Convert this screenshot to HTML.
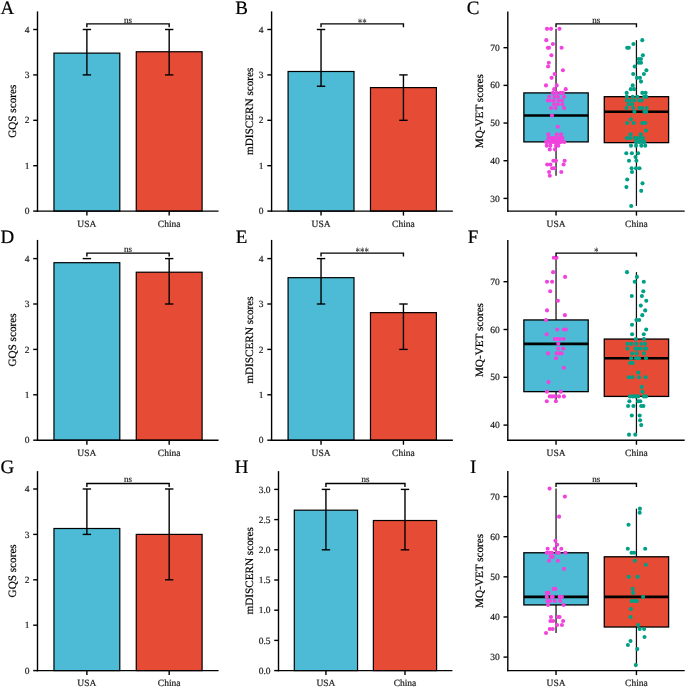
<!DOCTYPE html>
<html><head><meta charset="utf-8"><style>
html,body{margin:0;padding:0;background:#fff;}
svg{display:block;font-family:"Liberation Serif", serif;will-change:transform;text-rendering:geometricPrecision;}
</style></head><body>
<svg width="685" height="687" viewBox="0 0 685 687">
<rect width="685" height="687" fill="#fff"/>
<rect x="53.96" y="53.11" width="65.84" height="157.99" fill="#4DBBD5" stroke="#000" stroke-width="1.2"/>
<rect x="136.26" y="51.75" width="65.84" height="159.35" fill="#E64B35" stroke="#000" stroke-width="1.2"/>
<line x1="86.88" y1="74.90" x2="86.88" y2="29.50" stroke="#000" stroke-width="1.4"/>
<line x1="82.68" y1="74.90" x2="91.08" y2="74.90" stroke="#000" stroke-width="1.4"/>
<line x1="82.68" y1="29.50" x2="91.08" y2="29.50" stroke="#000" stroke-width="1.4"/>
<line x1="169.18" y1="74.90" x2="169.18" y2="29.50" stroke="#000" stroke-width="1.4"/>
<line x1="164.98" y1="74.90" x2="173.38" y2="74.90" stroke="#000" stroke-width="1.4"/>
<line x1="164.98" y1="29.50" x2="173.38" y2="29.50" stroke="#000" stroke-width="1.4"/>
<line x1="37.50" y1="11.40" x2="37.50" y2="211.80" stroke="#000" stroke-width="1.4"/>
<line x1="33.20" y1="211.10" x2="37.50" y2="211.10" stroke="#000" stroke-width="1.4"/>
<text x="29.50" y="214.20" font-size="9.5" text-anchor="end" fill="#1a1a1a" stroke="#1a1a1a" stroke-width="0.2">0</text>
<line x1="33.20" y1="165.70" x2="37.50" y2="165.70" stroke="#000" stroke-width="1.4"/>
<text x="29.50" y="168.80" font-size="9.5" text-anchor="end" fill="#1a1a1a" stroke="#1a1a1a" stroke-width="0.2">1</text>
<line x1="33.20" y1="120.30" x2="37.50" y2="120.30" stroke="#000" stroke-width="1.4"/>
<text x="29.50" y="123.40" font-size="9.5" text-anchor="end" fill="#1a1a1a" stroke="#1a1a1a" stroke-width="0.2">2</text>
<line x1="33.20" y1="74.90" x2="37.50" y2="74.90" stroke="#000" stroke-width="1.4"/>
<text x="29.50" y="78.00" font-size="9.5" text-anchor="end" fill="#1a1a1a" stroke="#1a1a1a" stroke-width="0.2">3</text>
<line x1="33.20" y1="29.50" x2="37.50" y2="29.50" stroke="#000" stroke-width="1.4"/>
<text x="29.50" y="32.60" font-size="9.5" text-anchor="end" fill="#1a1a1a" stroke="#1a1a1a" stroke-width="0.2">4</text>
<text x="16.30" y="111.25" font-size="11.2" text-anchor="middle" fill="#000" stroke="#000" stroke-width="0.2" transform="rotate(-90 16.30 111.25)">GQS scores</text>
<line x1="36.80" y1="211.10" x2="218.56" y2="211.10" stroke="#000" stroke-width="1.4"/>
<line x1="86.88" y1="211.10" x2="86.88" y2="215.60" stroke="#000" stroke-width="1.4"/>
<text x="86.88" y="226.70" font-size="9.5" text-anchor="middle" fill="#1a1a1a" stroke="#1a1a1a" stroke-width="0.2">USA</text>
<line x1="169.18" y1="211.10" x2="169.18" y2="215.60" stroke="#000" stroke-width="1.4"/>
<text x="169.18" y="226.70" font-size="9.5" text-anchor="middle" fill="#1a1a1a" stroke="#1a1a1a" stroke-width="0.2">China</text>
<path d="M86.88,27.25 L86.88,23.85 L169.18,23.85 L169.18,27.25" fill="none" stroke="#000" stroke-width="1.4"/>
<text x="128.03" y="22.55" font-size="9" text-anchor="middle" fill="#222" stroke="#222" stroke-width="0.2">ns</text>
<rect x="288.08" y="71.50" width="65.92" height="139.60" fill="#4DBBD5" stroke="#000" stroke-width="1.2"/>
<rect x="370.48" y="87.61" width="65.92" height="123.49" fill="#E64B35" stroke="#000" stroke-width="1.2"/>
<line x1="321.04" y1="86.25" x2="321.04" y2="29.50" stroke="#000" stroke-width="1.4"/>
<line x1="316.84" y1="86.25" x2="325.24" y2="86.25" stroke="#000" stroke-width="1.4"/>
<line x1="316.84" y1="29.50" x2="325.24" y2="29.50" stroke="#000" stroke-width="1.4"/>
<line x1="403.44" y1="120.30" x2="403.44" y2="74.90" stroke="#000" stroke-width="1.4"/>
<line x1="399.24" y1="120.30" x2="407.64" y2="120.30" stroke="#000" stroke-width="1.4"/>
<line x1="399.24" y1="74.90" x2="407.64" y2="74.90" stroke="#000" stroke-width="1.4"/>
<line x1="271.60" y1="11.40" x2="271.60" y2="211.80" stroke="#000" stroke-width="1.4"/>
<line x1="267.30" y1="211.10" x2="271.60" y2="211.10" stroke="#000" stroke-width="1.4"/>
<text x="263.60" y="214.20" font-size="9.5" text-anchor="end" fill="#1a1a1a" stroke="#1a1a1a" stroke-width="0.2">0</text>
<line x1="267.30" y1="165.70" x2="271.60" y2="165.70" stroke="#000" stroke-width="1.4"/>
<text x="263.60" y="168.80" font-size="9.5" text-anchor="end" fill="#1a1a1a" stroke="#1a1a1a" stroke-width="0.2">1</text>
<line x1="267.30" y1="120.30" x2="271.60" y2="120.30" stroke="#000" stroke-width="1.4"/>
<text x="263.60" y="123.40" font-size="9.5" text-anchor="end" fill="#1a1a1a" stroke="#1a1a1a" stroke-width="0.2">2</text>
<line x1="267.30" y1="74.90" x2="271.60" y2="74.90" stroke="#000" stroke-width="1.4"/>
<text x="263.60" y="78.00" font-size="9.5" text-anchor="end" fill="#1a1a1a" stroke="#1a1a1a" stroke-width="0.2">3</text>
<line x1="267.30" y1="29.50" x2="271.60" y2="29.50" stroke="#000" stroke-width="1.4"/>
<text x="263.60" y="32.60" font-size="9.5" text-anchor="end" fill="#1a1a1a" stroke="#1a1a1a" stroke-width="0.2">4</text>
<text x="252.60" y="111.25" font-size="11.2" text-anchor="middle" fill="#000" stroke="#000" stroke-width="0.2" transform="rotate(-90 252.60 111.25)">mDISCERN scores</text>
<line x1="270.90" y1="211.10" x2="452.88" y2="211.10" stroke="#000" stroke-width="1.4"/>
<line x1="321.04" y1="211.10" x2="321.04" y2="215.60" stroke="#000" stroke-width="1.4"/>
<text x="321.04" y="226.70" font-size="9.5" text-anchor="middle" fill="#1a1a1a" stroke="#1a1a1a" stroke-width="0.2">USA</text>
<line x1="403.44" y1="211.10" x2="403.44" y2="215.60" stroke="#000" stroke-width="1.4"/>
<text x="403.44" y="226.70" font-size="9.5" text-anchor="middle" fill="#1a1a1a" stroke="#1a1a1a" stroke-width="0.2">China</text>
<path d="M321.04,27.25 L321.04,23.85 L403.44,23.85 L403.44,27.25" fill="none" stroke="#000" stroke-width="1.4"/>
<text transform="translate(362.24 23.55) scale(1 1.45)" x="0" y="0" font-size="9" text-anchor="middle" fill="#222" dy="2.4">**</text>
<rect x="53.96" y="262.69" width="65.84" height="177.51" fill="#4DBBD5" stroke="#000" stroke-width="1.2"/>
<rect x="136.26" y="272.22" width="65.84" height="167.98" fill="#E64B35" stroke="#000" stroke-width="1.2"/>
<line x1="82.68" y1="258.60" x2="91.08" y2="258.60" stroke="#000" stroke-width="1.4"/>
<line x1="169.18" y1="304.00" x2="169.18" y2="258.60" stroke="#000" stroke-width="1.4"/>
<line x1="164.98" y1="304.00" x2="173.38" y2="304.00" stroke="#000" stroke-width="1.4"/>
<line x1="164.98" y1="258.60" x2="173.38" y2="258.60" stroke="#000" stroke-width="1.4"/>
<line x1="37.50" y1="239.90" x2="37.50" y2="440.90" stroke="#000" stroke-width="1.4"/>
<line x1="33.20" y1="440.20" x2="37.50" y2="440.20" stroke="#000" stroke-width="1.4"/>
<text x="29.50" y="443.30" font-size="9.5" text-anchor="end" fill="#1a1a1a" stroke="#1a1a1a" stroke-width="0.2">0</text>
<line x1="33.20" y1="394.80" x2="37.50" y2="394.80" stroke="#000" stroke-width="1.4"/>
<text x="29.50" y="397.90" font-size="9.5" text-anchor="end" fill="#1a1a1a" stroke="#1a1a1a" stroke-width="0.2">1</text>
<line x1="33.20" y1="349.40" x2="37.50" y2="349.40" stroke="#000" stroke-width="1.4"/>
<text x="29.50" y="352.50" font-size="9.5" text-anchor="end" fill="#1a1a1a" stroke="#1a1a1a" stroke-width="0.2">2</text>
<line x1="33.20" y1="304.00" x2="37.50" y2="304.00" stroke="#000" stroke-width="1.4"/>
<text x="29.50" y="307.10" font-size="9.5" text-anchor="end" fill="#1a1a1a" stroke="#1a1a1a" stroke-width="0.2">3</text>
<line x1="33.20" y1="258.60" x2="37.50" y2="258.60" stroke="#000" stroke-width="1.4"/>
<text x="29.50" y="261.70" font-size="9.5" text-anchor="end" fill="#1a1a1a" stroke="#1a1a1a" stroke-width="0.2">4</text>
<text x="16.30" y="340.05" font-size="11.2" text-anchor="middle" fill="#000" stroke="#000" stroke-width="0.2" transform="rotate(-90 16.30 340.05)">GQS scores</text>
<line x1="36.80" y1="440.20" x2="218.56" y2="440.20" stroke="#000" stroke-width="1.4"/>
<line x1="86.88" y1="440.20" x2="86.88" y2="444.70" stroke="#000" stroke-width="1.4"/>
<text x="86.88" y="455.80" font-size="9.5" text-anchor="middle" fill="#1a1a1a" stroke="#1a1a1a" stroke-width="0.2">USA</text>
<line x1="169.18" y1="440.20" x2="169.18" y2="444.70" stroke="#000" stroke-width="1.4"/>
<text x="169.18" y="455.80" font-size="9.5" text-anchor="middle" fill="#1a1a1a" stroke="#1a1a1a" stroke-width="0.2">China</text>
<path d="M86.88,256.50 L86.88,253.10 L169.18,253.10 L169.18,256.50" fill="none" stroke="#000" stroke-width="1.4"/>
<text x="128.03" y="251.80" font-size="9" text-anchor="middle" fill="#222" stroke="#222" stroke-width="0.2">ns</text>
<rect x="288.08" y="277.67" width="65.92" height="162.53" fill="#4DBBD5" stroke="#000" stroke-width="1.2"/>
<rect x="370.48" y="312.63" width="65.92" height="127.57" fill="#E64B35" stroke="#000" stroke-width="1.2"/>
<line x1="321.04" y1="304.00" x2="321.04" y2="258.60" stroke="#000" stroke-width="1.4"/>
<line x1="316.84" y1="304.00" x2="325.24" y2="304.00" stroke="#000" stroke-width="1.4"/>
<line x1="316.84" y1="258.60" x2="325.24" y2="258.60" stroke="#000" stroke-width="1.4"/>
<line x1="403.44" y1="349.40" x2="403.44" y2="304.00" stroke="#000" stroke-width="1.4"/>
<line x1="399.24" y1="349.40" x2="407.64" y2="349.40" stroke="#000" stroke-width="1.4"/>
<line x1="399.24" y1="304.00" x2="407.64" y2="304.00" stroke="#000" stroke-width="1.4"/>
<line x1="271.60" y1="239.90" x2="271.60" y2="440.90" stroke="#000" stroke-width="1.4"/>
<line x1="267.30" y1="440.20" x2="271.60" y2="440.20" stroke="#000" stroke-width="1.4"/>
<text x="263.60" y="443.30" font-size="9.5" text-anchor="end" fill="#1a1a1a" stroke="#1a1a1a" stroke-width="0.2">0</text>
<line x1="267.30" y1="394.80" x2="271.60" y2="394.80" stroke="#000" stroke-width="1.4"/>
<text x="263.60" y="397.90" font-size="9.5" text-anchor="end" fill="#1a1a1a" stroke="#1a1a1a" stroke-width="0.2">1</text>
<line x1="267.30" y1="349.40" x2="271.60" y2="349.40" stroke="#000" stroke-width="1.4"/>
<text x="263.60" y="352.50" font-size="9.5" text-anchor="end" fill="#1a1a1a" stroke="#1a1a1a" stroke-width="0.2">2</text>
<line x1="267.30" y1="304.00" x2="271.60" y2="304.00" stroke="#000" stroke-width="1.4"/>
<text x="263.60" y="307.10" font-size="9.5" text-anchor="end" fill="#1a1a1a" stroke="#1a1a1a" stroke-width="0.2">3</text>
<line x1="267.30" y1="258.60" x2="271.60" y2="258.60" stroke="#000" stroke-width="1.4"/>
<text x="263.60" y="261.70" font-size="9.5" text-anchor="end" fill="#1a1a1a" stroke="#1a1a1a" stroke-width="0.2">4</text>
<text x="252.60" y="340.05" font-size="11.2" text-anchor="middle" fill="#000" stroke="#000" stroke-width="0.2" transform="rotate(-90 252.60 340.05)">mDISCERN scores</text>
<line x1="270.90" y1="440.20" x2="452.88" y2="440.20" stroke="#000" stroke-width="1.4"/>
<line x1="321.04" y1="440.20" x2="321.04" y2="444.70" stroke="#000" stroke-width="1.4"/>
<text x="321.04" y="455.80" font-size="9.5" text-anchor="middle" fill="#1a1a1a" stroke="#1a1a1a" stroke-width="0.2">USA</text>
<line x1="403.44" y1="440.20" x2="403.44" y2="444.70" stroke="#000" stroke-width="1.4"/>
<text x="403.44" y="455.80" font-size="9.5" text-anchor="middle" fill="#1a1a1a" stroke="#1a1a1a" stroke-width="0.2">China</text>
<path d="M321.04,256.50 L321.04,253.10 L403.44,253.10 L403.44,256.50" fill="none" stroke="#000" stroke-width="1.4"/>
<text transform="translate(362.24 252.80) scale(1 1.45)" x="0" y="0" font-size="9" text-anchor="middle" fill="#222" dy="2.4">***</text>
<rect x="53.96" y="528.50" width="65.84" height="142.10" fill="#4DBBD5" stroke="#000" stroke-width="1.2"/>
<rect x="136.26" y="534.40" width="65.84" height="136.20" fill="#E64B35" stroke="#000" stroke-width="1.2"/>
<line x1="86.88" y1="534.40" x2="86.88" y2="489.00" stroke="#000" stroke-width="1.4"/>
<line x1="82.68" y1="534.40" x2="91.08" y2="534.40" stroke="#000" stroke-width="1.4"/>
<line x1="82.68" y1="489.00" x2="91.08" y2="489.00" stroke="#000" stroke-width="1.4"/>
<line x1="169.18" y1="579.80" x2="169.18" y2="489.00" stroke="#000" stroke-width="1.4"/>
<line x1="164.98" y1="579.80" x2="173.38" y2="579.80" stroke="#000" stroke-width="1.4"/>
<line x1="164.98" y1="489.00" x2="173.38" y2="489.00" stroke="#000" stroke-width="1.4"/>
<line x1="37.50" y1="471.10" x2="37.50" y2="671.30" stroke="#000" stroke-width="1.4"/>
<line x1="33.20" y1="670.60" x2="37.50" y2="670.60" stroke="#000" stroke-width="1.4"/>
<text x="29.50" y="673.70" font-size="9.5" text-anchor="end" fill="#1a1a1a" stroke="#1a1a1a" stroke-width="0.2">0</text>
<line x1="33.20" y1="625.20" x2="37.50" y2="625.20" stroke="#000" stroke-width="1.4"/>
<text x="29.50" y="628.30" font-size="9.5" text-anchor="end" fill="#1a1a1a" stroke="#1a1a1a" stroke-width="0.2">1</text>
<line x1="33.20" y1="579.80" x2="37.50" y2="579.80" stroke="#000" stroke-width="1.4"/>
<text x="29.50" y="582.90" font-size="9.5" text-anchor="end" fill="#1a1a1a" stroke="#1a1a1a" stroke-width="0.2">2</text>
<line x1="33.20" y1="534.40" x2="37.50" y2="534.40" stroke="#000" stroke-width="1.4"/>
<text x="29.50" y="537.50" font-size="9.5" text-anchor="end" fill="#1a1a1a" stroke="#1a1a1a" stroke-width="0.2">3</text>
<line x1="33.20" y1="489.00" x2="37.50" y2="489.00" stroke="#000" stroke-width="1.4"/>
<text x="29.50" y="492.10" font-size="9.5" text-anchor="end" fill="#1a1a1a" stroke="#1a1a1a" stroke-width="0.2">4</text>
<text x="16.30" y="570.85" font-size="11.2" text-anchor="middle" fill="#000" stroke="#000" stroke-width="0.2" transform="rotate(-90 16.30 570.85)">GQS scores</text>
<line x1="36.80" y1="670.60" x2="218.56" y2="670.60" stroke="#000" stroke-width="1.4"/>
<line x1="86.88" y1="670.60" x2="86.88" y2="675.10" stroke="#000" stroke-width="1.4"/>
<text x="86.88" y="686.20" font-size="9.5" text-anchor="middle" fill="#1a1a1a" stroke="#1a1a1a" stroke-width="0.2">USA</text>
<line x1="169.18" y1="670.60" x2="169.18" y2="675.10" stroke="#000" stroke-width="1.4"/>
<text x="169.18" y="686.20" font-size="9.5" text-anchor="middle" fill="#1a1a1a" stroke="#1a1a1a" stroke-width="0.2">China</text>
<path d="M86.88,486.90 L86.88,483.50 L169.18,483.50 L169.18,486.90" fill="none" stroke="#000" stroke-width="1.4"/>
<text x="128.03" y="482.20" font-size="9" text-anchor="middle" fill="#222" stroke="#222" stroke-width="0.2">ns</text>
<rect x="294.31" y="510.18" width="63.24" height="160.42" fill="#4DBBD5" stroke="#000" stroke-width="1.2"/>
<rect x="373.36" y="520.51" width="63.24" height="150.09" fill="#E64B35" stroke="#000" stroke-width="1.2"/>
<line x1="325.93" y1="549.80" x2="325.93" y2="489.40" stroke="#000" stroke-width="1.4"/>
<line x1="321.73" y1="549.80" x2="330.13" y2="549.80" stroke="#000" stroke-width="1.4"/>
<line x1="321.73" y1="489.40" x2="330.13" y2="489.40" stroke="#000" stroke-width="1.4"/>
<line x1="404.98" y1="549.80" x2="404.98" y2="489.40" stroke="#000" stroke-width="1.4"/>
<line x1="400.78" y1="549.80" x2="409.18" y2="549.80" stroke="#000" stroke-width="1.4"/>
<line x1="400.78" y1="489.40" x2="409.18" y2="489.40" stroke="#000" stroke-width="1.4"/>
<line x1="278.50" y1="471.10" x2="278.50" y2="671.30" stroke="#000" stroke-width="1.4"/>
<line x1="274.20" y1="670.60" x2="278.50" y2="670.60" stroke="#000" stroke-width="1.4"/>
<text x="270.50" y="673.70" font-size="9.5" text-anchor="end" fill="#1a1a1a" stroke="#1a1a1a" stroke-width="0.2">0.0</text>
<line x1="274.20" y1="640.40" x2="278.50" y2="640.40" stroke="#000" stroke-width="1.4"/>
<text x="270.50" y="643.50" font-size="9.5" text-anchor="end" fill="#1a1a1a" stroke="#1a1a1a" stroke-width="0.2">0.5</text>
<line x1="274.20" y1="610.20" x2="278.50" y2="610.20" stroke="#000" stroke-width="1.4"/>
<text x="270.50" y="613.30" font-size="9.5" text-anchor="end" fill="#1a1a1a" stroke="#1a1a1a" stroke-width="0.2">1.0</text>
<line x1="274.20" y1="580.00" x2="278.50" y2="580.00" stroke="#000" stroke-width="1.4"/>
<text x="270.50" y="583.10" font-size="9.5" text-anchor="end" fill="#1a1a1a" stroke="#1a1a1a" stroke-width="0.2">1.5</text>
<line x1="274.20" y1="549.80" x2="278.50" y2="549.80" stroke="#000" stroke-width="1.4"/>
<text x="270.50" y="552.90" font-size="9.5" text-anchor="end" fill="#1a1a1a" stroke="#1a1a1a" stroke-width="0.2">2.0</text>
<line x1="274.20" y1="519.60" x2="278.50" y2="519.60" stroke="#000" stroke-width="1.4"/>
<text x="270.50" y="522.70" font-size="9.5" text-anchor="end" fill="#1a1a1a" stroke="#1a1a1a" stroke-width="0.2">2.5</text>
<line x1="274.20" y1="489.40" x2="278.50" y2="489.40" stroke="#000" stroke-width="1.4"/>
<text x="270.50" y="492.50" font-size="9.5" text-anchor="end" fill="#1a1a1a" stroke="#1a1a1a" stroke-width="0.2">3.0</text>
<text x="252.60" y="570.85" font-size="11.2" text-anchor="middle" fill="#000" stroke="#000" stroke-width="0.2" transform="rotate(-90 252.60 570.85)">mDISCERN scores</text>
<line x1="277.80" y1="670.60" x2="452.41" y2="670.60" stroke="#000" stroke-width="1.4"/>
<line x1="325.93" y1="670.60" x2="325.93" y2="675.10" stroke="#000" stroke-width="1.4"/>
<text x="325.93" y="686.20" font-size="9.5" text-anchor="middle" fill="#1a1a1a" stroke="#1a1a1a" stroke-width="0.2">USA</text>
<line x1="404.98" y1="670.60" x2="404.98" y2="675.10" stroke="#000" stroke-width="1.4"/>
<text x="404.98" y="686.20" font-size="9.5" text-anchor="middle" fill="#1a1a1a" stroke="#1a1a1a" stroke-width="0.2">China</text>
<path d="M325.93,486.90 L325.93,483.50 L404.98,483.50 L404.98,486.90" fill="none" stroke="#000" stroke-width="1.4"/>
<text x="365.46" y="482.20" font-size="9" text-anchor="middle" fill="#222" stroke="#222" stroke-width="0.2">ns</text>
<line x1="556.04" y1="28.86" x2="556.04" y2="92.91" stroke="#111" stroke-width="1.25"/>
<line x1="556.04" y1="141.89" x2="556.04" y2="175.80" stroke="#111" stroke-width="1.25"/>
<rect x="523.88" y="92.91" width="64.32" height="48.98" fill="#4DBBD5" stroke="#000" stroke-width="1.3"/>
<line x1="523.88" y1="115.52" x2="588.20" y2="115.52" stroke="#000" stroke-width="2.6"/>
<line x1="636.44" y1="40.17" x2="636.44" y2="96.68" stroke="#111" stroke-width="1.25"/>
<line x1="636.44" y1="142.64" x2="636.44" y2="205.94" stroke="#111" stroke-width="1.25"/>
<rect x="604.28" y="96.68" width="64.32" height="45.96" fill="#E64B35" stroke="#000" stroke-width="1.3"/>
<line x1="604.28" y1="111.75" x2="668.60" y2="111.75" stroke="#000" stroke-width="2.6"/>
<circle cx="547.00" cy="28.86" r="2.05" fill="#F042DC"/>
<circle cx="551.00" cy="28.86" r="2.05" fill="#F042DC"/>
<circle cx="559.50" cy="28.86" r="2.05" fill="#F042DC"/>
<circle cx="546.30" cy="40.17" r="2.05" fill="#F042DC"/>
<circle cx="552.90" cy="43.93" r="2.05" fill="#F042DC"/>
<circle cx="547.90" cy="47.70" r="2.05" fill="#F042DC"/>
<circle cx="549.00" cy="47.70" r="2.05" fill="#F042DC"/>
<circle cx="561.60" cy="47.70" r="2.05" fill="#F042DC"/>
<circle cx="551.40" cy="55.23" r="2.05" fill="#F042DC"/>
<circle cx="548.80" cy="62.77" r="2.05" fill="#F042DC"/>
<circle cx="548.10" cy="66.54" r="2.05" fill="#F042DC"/>
<circle cx="562.90" cy="70.31" r="2.05" fill="#F042DC"/>
<circle cx="554.60" cy="74.07" r="2.05" fill="#F042DC"/>
<circle cx="551.60" cy="77.84" r="2.05" fill="#F042DC"/>
<circle cx="546.00" cy="85.38" r="2.05" fill="#F042DC"/>
<circle cx="556.70" cy="85.38" r="2.05" fill="#F042DC"/>
<circle cx="554.20" cy="89.14" r="2.05" fill="#F042DC"/>
<circle cx="565.70" cy="89.14" r="2.05" fill="#F042DC"/>
<circle cx="552.90" cy="92.91" r="2.05" fill="#F042DC"/>
<circle cx="556.60" cy="92.91" r="2.05" fill="#F042DC"/>
<circle cx="560.60" cy="92.91" r="2.05" fill="#F042DC"/>
<circle cx="562.90" cy="92.91" r="2.05" fill="#F042DC"/>
<circle cx="549.10" cy="96.68" r="2.05" fill="#F042DC"/>
<circle cx="554.50" cy="96.68" r="2.05" fill="#F042DC"/>
<circle cx="558.00" cy="96.68" r="2.05" fill="#F042DC"/>
<circle cx="564.10" cy="96.68" r="2.05" fill="#F042DC"/>
<circle cx="547.70" cy="100.45" r="2.05" fill="#F042DC"/>
<circle cx="549.80" cy="100.45" r="2.05" fill="#F042DC"/>
<circle cx="553.60" cy="100.45" r="2.05" fill="#F042DC"/>
<circle cx="558.50" cy="100.45" r="2.05" fill="#F042DC"/>
<circle cx="562.00" cy="100.45" r="2.05" fill="#F042DC"/>
<circle cx="554.00" cy="104.21" r="2.05" fill="#F042DC"/>
<circle cx="557.80" cy="104.21" r="2.05" fill="#F042DC"/>
<circle cx="562.40" cy="104.21" r="2.05" fill="#F042DC"/>
<circle cx="551.00" cy="107.98" r="2.05" fill="#F042DC"/>
<circle cx="555.40" cy="107.98" r="2.05" fill="#F042DC"/>
<circle cx="564.10" cy="107.98" r="2.05" fill="#F042DC"/>
<circle cx="552.00" cy="115.52" r="2.05" fill="#F042DC"/>
<circle cx="557.80" cy="126.82" r="2.05" fill="#F042DC"/>
<circle cx="548.40" cy="134.35" r="2.05" fill="#F042DC"/>
<circle cx="556.80" cy="134.35" r="2.05" fill="#F042DC"/>
<circle cx="561.00" cy="134.35" r="2.05" fill="#F042DC"/>
<circle cx="548.40" cy="138.12" r="2.05" fill="#F042DC"/>
<circle cx="551.70" cy="138.12" r="2.05" fill="#F042DC"/>
<circle cx="553.60" cy="138.12" r="2.05" fill="#F042DC"/>
<circle cx="555.40" cy="138.12" r="2.05" fill="#F042DC"/>
<circle cx="558.70" cy="138.12" r="2.05" fill="#F042DC"/>
<circle cx="560.60" cy="138.12" r="2.05" fill="#F042DC"/>
<circle cx="562.40" cy="138.12" r="2.05" fill="#F042DC"/>
<circle cx="546.10" cy="141.89" r="2.05" fill="#F042DC"/>
<circle cx="548.20" cy="141.89" r="2.05" fill="#F042DC"/>
<circle cx="550.30" cy="141.89" r="2.05" fill="#F042DC"/>
<circle cx="552.10" cy="141.89" r="2.05" fill="#F042DC"/>
<circle cx="554.00" cy="141.89" r="2.05" fill="#F042DC"/>
<circle cx="556.00" cy="141.89" r="2.05" fill="#F042DC"/>
<circle cx="557.80" cy="141.89" r="2.05" fill="#F042DC"/>
<circle cx="559.50" cy="141.89" r="2.05" fill="#F042DC"/>
<circle cx="561.00" cy="141.89" r="2.05" fill="#F042DC"/>
<circle cx="564.30" cy="141.89" r="2.05" fill="#F042DC"/>
<circle cx="546.80" cy="145.66" r="2.05" fill="#F042DC"/>
<circle cx="550.40" cy="145.66" r="2.05" fill="#F042DC"/>
<circle cx="556.00" cy="145.66" r="2.05" fill="#F042DC"/>
<circle cx="558.30" cy="145.66" r="2.05" fill="#F042DC"/>
<circle cx="549.80" cy="149.42" r="2.05" fill="#F042DC"/>
<circle cx="555.00" cy="149.42" r="2.05" fill="#F042DC"/>
<circle cx="553.40" cy="160.73" r="2.05" fill="#F042DC"/>
<circle cx="556.00" cy="160.73" r="2.05" fill="#F042DC"/>
<circle cx="564.60" cy="160.73" r="2.05" fill="#F042DC"/>
<circle cx="547.20" cy="164.49" r="2.05" fill="#F042DC"/>
<circle cx="550.40" cy="164.49" r="2.05" fill="#F042DC"/>
<circle cx="563.60" cy="164.49" r="2.05" fill="#F042DC"/>
<circle cx="552.10" cy="168.26" r="2.05" fill="#F042DC"/>
<circle cx="554.40" cy="168.26" r="2.05" fill="#F042DC"/>
<circle cx="549.10" cy="172.03" r="2.05" fill="#F042DC"/>
<circle cx="561.30" cy="172.03" r="2.05" fill="#F042DC"/>
<circle cx="549.80" cy="175.80" r="2.05" fill="#F042DC"/>
<circle cx="642.30" cy="40.17" r="2.05" fill="#00A087"/>
<circle cx="633.40" cy="43.93" r="2.05" fill="#00A087"/>
<circle cx="627.20" cy="47.70" r="2.05" fill="#00A087"/>
<circle cx="628.80" cy="47.70" r="2.05" fill="#00A087"/>
<circle cx="642.90" cy="55.23" r="2.05" fill="#00A087"/>
<circle cx="638.70" cy="59.00" r="2.05" fill="#00A087"/>
<circle cx="641.00" cy="59.00" r="2.05" fill="#00A087"/>
<circle cx="638.70" cy="62.77" r="2.05" fill="#00A087"/>
<circle cx="641.00" cy="62.77" r="2.05" fill="#00A087"/>
<circle cx="634.70" cy="66.54" r="2.05" fill="#00A087"/>
<circle cx="646.40" cy="70.31" r="2.05" fill="#00A087"/>
<circle cx="633.20" cy="74.07" r="2.05" fill="#00A087"/>
<circle cx="643.90" cy="74.07" r="2.05" fill="#00A087"/>
<circle cx="637.00" cy="77.84" r="2.05" fill="#00A087"/>
<circle cx="640.00" cy="77.84" r="2.05" fill="#00A087"/>
<circle cx="641.00" cy="81.61" r="2.05" fill="#00A087"/>
<circle cx="632.70" cy="85.38" r="2.05" fill="#00A087"/>
<circle cx="630.80" cy="89.14" r="2.05" fill="#00A087"/>
<circle cx="634.10" cy="89.14" r="2.05" fill="#00A087"/>
<circle cx="626.70" cy="92.91" r="2.05" fill="#00A087"/>
<circle cx="642.30" cy="92.91" r="2.05" fill="#00A087"/>
<circle cx="645.60" cy="92.91" r="2.05" fill="#00A087"/>
<circle cx="626.80" cy="96.68" r="2.05" fill="#00A087"/>
<circle cx="632.70" cy="96.68" r="2.05" fill="#00A087"/>
<circle cx="637.30" cy="96.68" r="2.05" fill="#00A087"/>
<circle cx="644.20" cy="96.68" r="2.05" fill="#00A087"/>
<circle cx="646.20" cy="96.68" r="2.05" fill="#00A087"/>
<circle cx="626.80" cy="100.45" r="2.05" fill="#00A087"/>
<circle cx="630.10" cy="100.45" r="2.05" fill="#00A087"/>
<circle cx="634.10" cy="100.45" r="2.05" fill="#00A087"/>
<circle cx="639.30" cy="100.45" r="2.05" fill="#00A087"/>
<circle cx="641.60" cy="100.45" r="2.05" fill="#00A087"/>
<circle cx="628.80" cy="104.21" r="2.05" fill="#00A087"/>
<circle cx="632.10" cy="104.21" r="2.05" fill="#00A087"/>
<circle cx="626.50" cy="107.98" r="2.05" fill="#00A087"/>
<circle cx="633.10" cy="107.98" r="2.05" fill="#00A087"/>
<circle cx="639.60" cy="107.98" r="2.05" fill="#00A087"/>
<circle cx="641.90" cy="107.98" r="2.05" fill="#00A087"/>
<circle cx="646.50" cy="107.98" r="2.05" fill="#00A087"/>
<circle cx="634.40" cy="111.75" r="2.05" fill="#00A087"/>
<circle cx="644.50" cy="111.75" r="2.05" fill="#00A087"/>
<circle cx="646.20" cy="111.75" r="2.05" fill="#00A087"/>
<circle cx="630.80" cy="119.28" r="2.05" fill="#00A087"/>
<circle cx="627.20" cy="123.05" r="2.05" fill="#00A087"/>
<circle cx="633.70" cy="123.05" r="2.05" fill="#00A087"/>
<circle cx="642.30" cy="123.05" r="2.05" fill="#00A087"/>
<circle cx="645.20" cy="123.05" r="2.05" fill="#00A087"/>
<circle cx="646.00" cy="130.59" r="2.05" fill="#00A087"/>
<circle cx="630.50" cy="134.35" r="2.05" fill="#00A087"/>
<circle cx="640.80" cy="134.35" r="2.05" fill="#00A087"/>
<circle cx="626.80" cy="138.12" r="2.05" fill="#00A087"/>
<circle cx="630.10" cy="138.12" r="2.05" fill="#00A087"/>
<circle cx="634.70" cy="138.12" r="2.05" fill="#00A087"/>
<circle cx="637.30" cy="138.12" r="2.05" fill="#00A087"/>
<circle cx="640.40" cy="138.12" r="2.05" fill="#00A087"/>
<circle cx="643.00" cy="138.12" r="2.05" fill="#00A087"/>
<circle cx="636.00" cy="141.89" r="2.05" fill="#00A087"/>
<circle cx="639.10" cy="141.89" r="2.05" fill="#00A087"/>
<circle cx="642.10" cy="141.89" r="2.05" fill="#00A087"/>
<circle cx="644.30" cy="141.89" r="2.05" fill="#00A087"/>
<circle cx="631.00" cy="145.66" r="2.05" fill="#00A087"/>
<circle cx="636.00" cy="145.66" r="2.05" fill="#00A087"/>
<circle cx="641.30" cy="145.66" r="2.05" fill="#00A087"/>
<circle cx="645.20" cy="145.66" r="2.05" fill="#00A087"/>
<circle cx="626.30" cy="153.19" r="2.05" fill="#00A087"/>
<circle cx="631.90" cy="153.19" r="2.05" fill="#00A087"/>
<circle cx="638.10" cy="153.19" r="2.05" fill="#00A087"/>
<circle cx="635.50" cy="156.96" r="2.05" fill="#00A087"/>
<circle cx="629.00" cy="160.73" r="2.05" fill="#00A087"/>
<circle cx="636.40" cy="160.73" r="2.05" fill="#00A087"/>
<circle cx="631.60" cy="168.26" r="2.05" fill="#00A087"/>
<circle cx="636.00" cy="168.26" r="2.05" fill="#00A087"/>
<circle cx="639.50" cy="168.26" r="2.05" fill="#00A087"/>
<circle cx="632.00" cy="172.03" r="2.05" fill="#00A087"/>
<circle cx="627.20" cy="179.56" r="2.05" fill="#00A087"/>
<circle cx="642.50" cy="183.33" r="2.05" fill="#00A087"/>
<circle cx="626.40" cy="187.10" r="2.05" fill="#00A087"/>
<circle cx="641.20" cy="190.87" r="2.05" fill="#00A087"/>
<circle cx="631.20" cy="205.94" r="2.05" fill="#00A087"/>
<line x1="507.80" y1="11.40" x2="507.80" y2="211.80" stroke="#000" stroke-width="1.4"/>
<line x1="503.50" y1="198.40" x2="507.80" y2="198.40" stroke="#000" stroke-width="1.4"/>
<text x="499.80" y="201.50" font-size="9.5" text-anchor="end" fill="#1a1a1a" stroke="#1a1a1a" stroke-width="0.2">30</text>
<line x1="503.50" y1="160.73" x2="507.80" y2="160.73" stroke="#000" stroke-width="1.4"/>
<text x="499.80" y="163.83" font-size="9.5" text-anchor="end" fill="#1a1a1a" stroke="#1a1a1a" stroke-width="0.2">40</text>
<line x1="503.50" y1="123.05" x2="507.80" y2="123.05" stroke="#000" stroke-width="1.4"/>
<text x="499.80" y="126.15" font-size="9.5" text-anchor="end" fill="#1a1a1a" stroke="#1a1a1a" stroke-width="0.2">50</text>
<line x1="503.50" y1="85.38" x2="507.80" y2="85.38" stroke="#000" stroke-width="1.4"/>
<text x="499.80" y="88.47" font-size="9.5" text-anchor="end" fill="#1a1a1a" stroke="#1a1a1a" stroke-width="0.2">60</text>
<line x1="503.50" y1="47.70" x2="507.80" y2="47.70" stroke="#000" stroke-width="1.4"/>
<text x="499.80" y="50.80" font-size="9.5" text-anchor="end" fill="#1a1a1a" stroke="#1a1a1a" stroke-width="0.2">70</text>
<text x="482.80" y="111.25" font-size="11.2" text-anchor="middle" fill="#000" stroke="#000" stroke-width="0.2" transform="rotate(-90 482.80 111.25)">MQ-VET scores</text>
<line x1="507.10" y1="211.10" x2="684.68" y2="211.10" stroke="#000" stroke-width="1.4"/>
<line x1="556.04" y1="211.10" x2="556.04" y2="215.60" stroke="#000" stroke-width="1.4"/>
<text x="556.04" y="226.70" font-size="9.5" text-anchor="middle" fill="#1a1a1a" stroke="#1a1a1a" stroke-width="0.2">USA</text>
<line x1="636.44" y1="211.10" x2="636.44" y2="215.60" stroke="#000" stroke-width="1.4"/>
<text x="636.44" y="226.70" font-size="9.5" text-anchor="middle" fill="#1a1a1a" stroke="#1a1a1a" stroke-width="0.2">China</text>
<path d="M556.04,27.25 L556.04,23.85 L636.44,23.85 L636.44,27.25" fill="none" stroke="#000" stroke-width="1.4"/>
<text x="596.24" y="22.55" font-size="9" text-anchor="middle" fill="#222" stroke="#222" stroke-width="0.2">ns</text>
<line x1="556.04" y1="257.80" x2="556.04" y2="319.94" stroke="#111" stroke-width="1.25"/>
<line x1="556.04" y1="391.64" x2="556.04" y2="401.20" stroke="#111" stroke-width="1.25"/>
<rect x="523.88" y="319.94" width="64.32" height="71.70" fill="#4DBBD5" stroke="#000" stroke-width="1.3"/>
<line x1="523.88" y1="343.84" x2="588.20" y2="343.84" stroke="#000" stroke-width="2.6"/>
<line x1="636.44" y1="272.14" x2="636.44" y2="339.06" stroke="#111" stroke-width="1.25"/>
<line x1="636.44" y1="396.42" x2="636.44" y2="434.66" stroke="#111" stroke-width="1.25"/>
<rect x="604.28" y="339.06" width="64.32" height="57.36" fill="#E64B35" stroke="#000" stroke-width="1.3"/>
<line x1="604.28" y1="358.18" x2="668.60" y2="358.18" stroke="#000" stroke-width="2.6"/>
<circle cx="553.80" cy="257.80" r="2.05" fill="#F042DC"/>
<circle cx="556.50" cy="257.80" r="2.05" fill="#F042DC"/>
<circle cx="553.10" cy="272.14" r="2.05" fill="#F042DC"/>
<circle cx="565.10" cy="276.92" r="2.05" fill="#F042DC"/>
<circle cx="547.00" cy="281.70" r="2.05" fill="#F042DC"/>
<circle cx="552.10" cy="281.70" r="2.05" fill="#F042DC"/>
<circle cx="550.20" cy="291.26" r="2.05" fill="#F042DC"/>
<circle cx="557.90" cy="300.82" r="2.05" fill="#F042DC"/>
<circle cx="547.00" cy="310.38" r="2.05" fill="#F042DC"/>
<circle cx="564.90" cy="315.16" r="2.05" fill="#F042DC"/>
<circle cx="546.00" cy="319.94" r="2.05" fill="#F042DC"/>
<circle cx="557.20" cy="329.50" r="2.05" fill="#F042DC"/>
<circle cx="563.90" cy="329.50" r="2.05" fill="#F042DC"/>
<circle cx="565.90" cy="329.50" r="2.05" fill="#F042DC"/>
<circle cx="546.70" cy="334.28" r="2.05" fill="#F042DC"/>
<circle cx="554.70" cy="339.06" r="2.05" fill="#F042DC"/>
<circle cx="557.30" cy="339.06" r="2.05" fill="#F042DC"/>
<circle cx="559.60" cy="339.06" r="2.05" fill="#F042DC"/>
<circle cx="563.60" cy="339.06" r="2.05" fill="#F042DC"/>
<circle cx="558.30" cy="343.84" r="2.05" fill="#F042DC"/>
<circle cx="558.30" cy="348.62" r="2.05" fill="#F042DC"/>
<circle cx="563.30" cy="348.62" r="2.05" fill="#F042DC"/>
<circle cx="548.10" cy="353.40" r="2.05" fill="#F042DC"/>
<circle cx="556.70" cy="353.40" r="2.05" fill="#F042DC"/>
<circle cx="559.30" cy="353.40" r="2.05" fill="#F042DC"/>
<circle cx="561.60" cy="353.40" r="2.05" fill="#F042DC"/>
<circle cx="556.00" cy="358.18" r="2.05" fill="#F042DC"/>
<circle cx="563.80" cy="367.74" r="2.05" fill="#F042DC"/>
<circle cx="548.50" cy="382.08" r="2.05" fill="#F042DC"/>
<circle cx="547.00" cy="391.64" r="2.05" fill="#F042DC"/>
<circle cx="560.80" cy="391.64" r="2.05" fill="#F042DC"/>
<circle cx="549.80" cy="396.42" r="2.05" fill="#F042DC"/>
<circle cx="552.10" cy="396.42" r="2.05" fill="#F042DC"/>
<circle cx="554.70" cy="396.42" r="2.05" fill="#F042DC"/>
<circle cx="559.00" cy="396.42" r="2.05" fill="#F042DC"/>
<circle cx="563.90" cy="396.42" r="2.05" fill="#F042DC"/>
<circle cx="546.80" cy="401.20" r="2.05" fill="#F042DC"/>
<circle cx="555.90" cy="401.20" r="2.05" fill="#F042DC"/>
<circle cx="627.00" cy="272.14" r="2.05" fill="#00A087"/>
<circle cx="637.00" cy="276.92" r="2.05" fill="#00A087"/>
<circle cx="634.70" cy="281.70" r="2.05" fill="#00A087"/>
<circle cx="643.80" cy="281.70" r="2.05" fill="#00A087"/>
<circle cx="643.30" cy="291.26" r="2.05" fill="#00A087"/>
<circle cx="631.80" cy="296.04" r="2.05" fill="#00A087"/>
<circle cx="641.90" cy="296.04" r="2.05" fill="#00A087"/>
<circle cx="646.30" cy="300.82" r="2.05" fill="#00A087"/>
<circle cx="640.80" cy="305.60" r="2.05" fill="#00A087"/>
<circle cx="645.20" cy="310.38" r="2.05" fill="#00A087"/>
<circle cx="642.30" cy="315.16" r="2.05" fill="#00A087"/>
<circle cx="636.40" cy="319.94" r="2.05" fill="#00A087"/>
<circle cx="639.20" cy="319.94" r="2.05" fill="#00A087"/>
<circle cx="632.00" cy="324.72" r="2.05" fill="#00A087"/>
<circle cx="646.20" cy="329.50" r="2.05" fill="#00A087"/>
<circle cx="632.10" cy="334.28" r="2.05" fill="#00A087"/>
<circle cx="643.80" cy="334.28" r="2.05" fill="#00A087"/>
<circle cx="635.90" cy="339.06" r="2.05" fill="#00A087"/>
<circle cx="643.90" cy="339.06" r="2.05" fill="#00A087"/>
<circle cx="627.50" cy="343.84" r="2.05" fill="#00A087"/>
<circle cx="631.40" cy="343.84" r="2.05" fill="#00A087"/>
<circle cx="636.20" cy="343.84" r="2.05" fill="#00A087"/>
<circle cx="641.30" cy="343.84" r="2.05" fill="#00A087"/>
<circle cx="645.20" cy="343.84" r="2.05" fill="#00A087"/>
<circle cx="627.50" cy="348.62" r="2.05" fill="#00A087"/>
<circle cx="635.40" cy="348.62" r="2.05" fill="#00A087"/>
<circle cx="637.70" cy="348.62" r="2.05" fill="#00A087"/>
<circle cx="640.30" cy="348.62" r="2.05" fill="#00A087"/>
<circle cx="644.60" cy="348.62" r="2.05" fill="#00A087"/>
<circle cx="646.20" cy="348.62" r="2.05" fill="#00A087"/>
<circle cx="632.20" cy="353.40" r="2.05" fill="#00A087"/>
<circle cx="636.70" cy="353.40" r="2.05" fill="#00A087"/>
<circle cx="643.90" cy="353.40" r="2.05" fill="#00A087"/>
<circle cx="631.10" cy="358.18" r="2.05" fill="#00A087"/>
<circle cx="636.00" cy="358.18" r="2.05" fill="#00A087"/>
<circle cx="639.00" cy="358.18" r="2.05" fill="#00A087"/>
<circle cx="646.00" cy="358.18" r="2.05" fill="#00A087"/>
<circle cx="630.40" cy="362.96" r="2.05" fill="#00A087"/>
<circle cx="632.70" cy="362.96" r="2.05" fill="#00A087"/>
<circle cx="638.30" cy="372.52" r="2.05" fill="#00A087"/>
<circle cx="628.80" cy="377.30" r="2.05" fill="#00A087"/>
<circle cx="632.40" cy="377.30" r="2.05" fill="#00A087"/>
<circle cx="639.00" cy="377.30" r="2.05" fill="#00A087"/>
<circle cx="645.70" cy="377.30" r="2.05" fill="#00A087"/>
<circle cx="641.70" cy="386.86" r="2.05" fill="#00A087"/>
<circle cx="642.30" cy="391.64" r="2.05" fill="#00A087"/>
<circle cx="629.90" cy="396.42" r="2.05" fill="#00A087"/>
<circle cx="632.90" cy="396.42" r="2.05" fill="#00A087"/>
<circle cx="635.50" cy="396.42" r="2.05" fill="#00A087"/>
<circle cx="638.20" cy="396.42" r="2.05" fill="#00A087"/>
<circle cx="643.80" cy="396.42" r="2.05" fill="#00A087"/>
<circle cx="646.00" cy="396.42" r="2.05" fill="#00A087"/>
<circle cx="629.40" cy="401.20" r="2.05" fill="#00A087"/>
<circle cx="638.20" cy="401.20" r="2.05" fill="#00A087"/>
<circle cx="640.30" cy="401.20" r="2.05" fill="#00A087"/>
<circle cx="628.10" cy="405.98" r="2.05" fill="#00A087"/>
<circle cx="633.40" cy="405.98" r="2.05" fill="#00A087"/>
<circle cx="641.20" cy="405.98" r="2.05" fill="#00A087"/>
<circle cx="643.40" cy="405.98" r="2.05" fill="#00A087"/>
<circle cx="631.80" cy="415.54" r="2.05" fill="#00A087"/>
<circle cx="639.70" cy="415.54" r="2.05" fill="#00A087"/>
<circle cx="640.10" cy="420.32" r="2.05" fill="#00A087"/>
<circle cx="641.20" cy="425.10" r="2.05" fill="#00A087"/>
<circle cx="629.00" cy="434.66" r="2.05" fill="#00A087"/>
<circle cx="635.30" cy="434.66" r="2.05" fill="#00A087"/>
<line x1="507.80" y1="239.90" x2="507.80" y2="440.90" stroke="#000" stroke-width="1.4"/>
<line x1="503.50" y1="425.10" x2="507.80" y2="425.10" stroke="#000" stroke-width="1.4"/>
<text x="499.80" y="428.20" font-size="9.5" text-anchor="end" fill="#1a1a1a" stroke="#1a1a1a" stroke-width="0.2">40</text>
<line x1="503.50" y1="377.30" x2="507.80" y2="377.30" stroke="#000" stroke-width="1.4"/>
<text x="499.80" y="380.40" font-size="9.5" text-anchor="end" fill="#1a1a1a" stroke="#1a1a1a" stroke-width="0.2">50</text>
<line x1="503.50" y1="329.50" x2="507.80" y2="329.50" stroke="#000" stroke-width="1.4"/>
<text x="499.80" y="332.60" font-size="9.5" text-anchor="end" fill="#1a1a1a" stroke="#1a1a1a" stroke-width="0.2">60</text>
<line x1="503.50" y1="281.70" x2="507.80" y2="281.70" stroke="#000" stroke-width="1.4"/>
<text x="499.80" y="284.80" font-size="9.5" text-anchor="end" fill="#1a1a1a" stroke="#1a1a1a" stroke-width="0.2">70</text>
<text x="482.80" y="340.05" font-size="11.2" text-anchor="middle" fill="#000" stroke="#000" stroke-width="0.2" transform="rotate(-90 482.80 340.05)">MQ-VET scores</text>
<line x1="507.10" y1="440.20" x2="684.68" y2="440.20" stroke="#000" stroke-width="1.4"/>
<line x1="556.04" y1="440.20" x2="556.04" y2="444.70" stroke="#000" stroke-width="1.4"/>
<text x="556.04" y="455.80" font-size="9.5" text-anchor="middle" fill="#1a1a1a" stroke="#1a1a1a" stroke-width="0.2">USA</text>
<line x1="636.44" y1="440.20" x2="636.44" y2="444.70" stroke="#000" stroke-width="1.4"/>
<text x="636.44" y="455.80" font-size="9.5" text-anchor="middle" fill="#1a1a1a" stroke="#1a1a1a" stroke-width="0.2">China</text>
<path d="M556.04,256.50 L556.04,253.10 L636.44,253.10 L636.44,256.50" fill="none" stroke="#000" stroke-width="1.4"/>
<text transform="translate(596.24 252.80) scale(1 1.45)" x="0" y="0" font-size="9" text-anchor="middle" fill="#222" dy="2.4">*</text>
<line x1="556.04" y1="488.58" x2="556.04" y2="552.77" stroke="#111" stroke-width="1.25"/>
<line x1="556.04" y1="604.94" x2="556.04" y2="633.03" stroke="#111" stroke-width="1.25"/>
<rect x="523.88" y="552.77" width="64.32" height="52.16" fill="#4DBBD5" stroke="#000" stroke-width="1.3"/>
<line x1="523.88" y1="596.91" x2="588.20" y2="596.91" stroke="#000" stroke-width="2.6"/>
<line x1="636.44" y1="508.64" x2="636.44" y2="556.79" stroke="#111" stroke-width="1.25"/>
<line x1="636.44" y1="627.01" x2="636.44" y2="665.12" stroke="#111" stroke-width="1.25"/>
<rect x="604.28" y="556.79" width="64.32" height="70.22" fill="#E64B35" stroke="#000" stroke-width="1.3"/>
<line x1="604.28" y1="596.91" x2="668.60" y2="596.91" stroke="#000" stroke-width="2.6"/>
<circle cx="549.60" cy="488.58" r="2.05" fill="#F042DC"/>
<circle cx="564.90" cy="496.60" r="2.05" fill="#F042DC"/>
<circle cx="559.10" cy="516.66" r="2.05" fill="#F042DC"/>
<circle cx="555.40" cy="540.74" r="2.05" fill="#F042DC"/>
<circle cx="557.20" cy="544.75" r="2.05" fill="#F042DC"/>
<circle cx="547.70" cy="548.76" r="2.05" fill="#F042DC"/>
<circle cx="554.80" cy="548.76" r="2.05" fill="#F042DC"/>
<circle cx="561.30" cy="548.76" r="2.05" fill="#F042DC"/>
<circle cx="546.80" cy="552.77" r="2.05" fill="#F042DC"/>
<circle cx="549.50" cy="552.77" r="2.05" fill="#F042DC"/>
<circle cx="551.80" cy="552.77" r="2.05" fill="#F042DC"/>
<circle cx="557.00" cy="552.77" r="2.05" fill="#F042DC"/>
<circle cx="558.80" cy="552.77" r="2.05" fill="#F042DC"/>
<circle cx="565.40" cy="552.77" r="2.05" fill="#F042DC"/>
<circle cx="550.80" cy="556.79" r="2.05" fill="#F042DC"/>
<circle cx="552.70" cy="556.79" r="2.05" fill="#F042DC"/>
<circle cx="549.00" cy="560.80" r="2.05" fill="#F042DC"/>
<circle cx="557.90" cy="560.80" r="2.05" fill="#F042DC"/>
<circle cx="564.10" cy="568.83" r="2.05" fill="#F042DC"/>
<circle cx="553.70" cy="588.89" r="2.05" fill="#F042DC"/>
<circle cx="555.40" cy="588.89" r="2.05" fill="#F042DC"/>
<circle cx="546.80" cy="592.90" r="2.05" fill="#F042DC"/>
<circle cx="548.50" cy="592.90" r="2.05" fill="#F042DC"/>
<circle cx="546.80" cy="596.91" r="2.05" fill="#F042DC"/>
<circle cx="551.80" cy="596.91" r="2.05" fill="#F042DC"/>
<circle cx="552.70" cy="596.91" r="2.05" fill="#F042DC"/>
<circle cx="559.60" cy="596.91" r="2.05" fill="#F042DC"/>
<circle cx="561.90" cy="596.91" r="2.05" fill="#F042DC"/>
<circle cx="547.50" cy="600.93" r="2.05" fill="#F042DC"/>
<circle cx="550.10" cy="600.93" r="2.05" fill="#F042DC"/>
<circle cx="554.70" cy="600.93" r="2.05" fill="#F042DC"/>
<circle cx="560.30" cy="600.93" r="2.05" fill="#F042DC"/>
<circle cx="548.10" cy="604.94" r="2.05" fill="#F042DC"/>
<circle cx="563.60" cy="604.94" r="2.05" fill="#F042DC"/>
<circle cx="551.00" cy="616.98" r="2.05" fill="#F042DC"/>
<circle cx="558.00" cy="616.98" r="2.05" fill="#F042DC"/>
<circle cx="559.60" cy="616.98" r="2.05" fill="#F042DC"/>
<circle cx="550.40" cy="620.99" r="2.05" fill="#F042DC"/>
<circle cx="553.10" cy="620.99" r="2.05" fill="#F042DC"/>
<circle cx="563.10" cy="620.99" r="2.05" fill="#F042DC"/>
<circle cx="557.10" cy="625.00" r="2.05" fill="#F042DC"/>
<circle cx="561.90" cy="625.00" r="2.05" fill="#F042DC"/>
<circle cx="549.80" cy="629.01" r="2.05" fill="#F042DC"/>
<circle cx="552.70" cy="629.01" r="2.05" fill="#F042DC"/>
<circle cx="546.00" cy="633.03" r="2.05" fill="#F042DC"/>
<circle cx="639.90" cy="508.64" r="2.05" fill="#00A087"/>
<circle cx="639.70" cy="512.65" r="2.05" fill="#00A087"/>
<circle cx="628.50" cy="524.69" r="2.05" fill="#00A087"/>
<circle cx="627.80" cy="548.76" r="2.05" fill="#00A087"/>
<circle cx="645.20" cy="548.76" r="2.05" fill="#00A087"/>
<circle cx="631.60" cy="552.77" r="2.05" fill="#00A087"/>
<circle cx="634.20" cy="552.77" r="2.05" fill="#00A087"/>
<circle cx="634.90" cy="560.80" r="2.05" fill="#00A087"/>
<circle cx="645.80" cy="564.81" r="2.05" fill="#00A087"/>
<circle cx="628.70" cy="576.85" r="2.05" fill="#00A087"/>
<circle cx="637.70" cy="576.85" r="2.05" fill="#00A087"/>
<circle cx="632.70" cy="588.89" r="2.05" fill="#00A087"/>
<circle cx="633.10" cy="592.90" r="2.05" fill="#00A087"/>
<circle cx="643.10" cy="596.91" r="2.05" fill="#00A087"/>
<circle cx="631.60" cy="600.93" r="2.05" fill="#00A087"/>
<circle cx="634.40" cy="600.93" r="2.05" fill="#00A087"/>
<circle cx="637.00" cy="600.93" r="2.05" fill="#00A087"/>
<circle cx="630.90" cy="608.95" r="2.05" fill="#00A087"/>
<circle cx="630.50" cy="616.98" r="2.05" fill="#00A087"/>
<circle cx="638.20" cy="625.00" r="2.05" fill="#00A087"/>
<circle cx="639.70" cy="629.01" r="2.05" fill="#00A087"/>
<circle cx="644.10" cy="629.01" r="2.05" fill="#00A087"/>
<circle cx="644.50" cy="637.04" r="2.05" fill="#00A087"/>
<circle cx="630.50" cy="641.05" r="2.05" fill="#00A087"/>
<circle cx="627.90" cy="645.06" r="2.05" fill="#00A087"/>
<circle cx="637.30" cy="649.08" r="2.05" fill="#00A087"/>
<circle cx="635.80" cy="665.12" r="2.05" fill="#00A087"/>
<line x1="507.80" y1="471.10" x2="507.80" y2="671.30" stroke="#000" stroke-width="1.4"/>
<line x1="503.50" y1="657.10" x2="507.80" y2="657.10" stroke="#000" stroke-width="1.4"/>
<text x="499.80" y="660.20" font-size="9.5" text-anchor="end" fill="#1a1a1a" stroke="#1a1a1a" stroke-width="0.2">30</text>
<line x1="503.50" y1="616.98" x2="507.80" y2="616.98" stroke="#000" stroke-width="1.4"/>
<text x="499.80" y="620.08" font-size="9.5" text-anchor="end" fill="#1a1a1a" stroke="#1a1a1a" stroke-width="0.2">40</text>
<line x1="503.50" y1="576.85" x2="507.80" y2="576.85" stroke="#000" stroke-width="1.4"/>
<text x="499.80" y="579.95" font-size="9.5" text-anchor="end" fill="#1a1a1a" stroke="#1a1a1a" stroke-width="0.2">50</text>
<line x1="503.50" y1="536.73" x2="507.80" y2="536.73" stroke="#000" stroke-width="1.4"/>
<text x="499.80" y="539.83" font-size="9.5" text-anchor="end" fill="#1a1a1a" stroke="#1a1a1a" stroke-width="0.2">60</text>
<line x1="503.50" y1="496.60" x2="507.80" y2="496.60" stroke="#000" stroke-width="1.4"/>
<text x="499.80" y="499.70" font-size="9.5" text-anchor="end" fill="#1a1a1a" stroke="#1a1a1a" stroke-width="0.2">70</text>
<text x="482.80" y="570.85" font-size="11.2" text-anchor="middle" fill="#000" stroke="#000" stroke-width="0.2" transform="rotate(-90 482.80 570.85)">MQ-VET scores</text>
<line x1="507.10" y1="670.60" x2="684.68" y2="670.60" stroke="#000" stroke-width="1.4"/>
<line x1="556.04" y1="670.60" x2="556.04" y2="675.10" stroke="#000" stroke-width="1.4"/>
<text x="556.04" y="686.20" font-size="9.5" text-anchor="middle" fill="#1a1a1a" stroke="#1a1a1a" stroke-width="0.2">USA</text>
<line x1="636.44" y1="670.60" x2="636.44" y2="675.10" stroke="#000" stroke-width="1.4"/>
<text x="636.44" y="686.20" font-size="9.5" text-anchor="middle" fill="#1a1a1a" stroke="#1a1a1a" stroke-width="0.2">China</text>
<path d="M556.04,486.90 L556.04,483.50 L636.44,483.50 L636.44,486.90" fill="none" stroke="#000" stroke-width="1.4"/>
<text x="596.24" y="482.20" font-size="9" text-anchor="middle" fill="#222" stroke="#222" stroke-width="0.2">ns</text>
<text x="7.30" y="13.80" font-size="19" text-anchor="middle" fill="#000" stroke="#000" stroke-width="0.2">A</text>
<text x="241.60" y="13.80" font-size="19" text-anchor="middle" fill="#000" stroke="#000" stroke-width="0.2">B</text>
<text x="473.10" y="13.80" font-size="19" text-anchor="middle" fill="#000" stroke="#000" stroke-width="0.2">C</text>
<text x="7.30" y="242.90" font-size="19" text-anchor="middle" fill="#000" stroke="#000" stroke-width="0.2">D</text>
<text x="241.60" y="242.90" font-size="19" text-anchor="middle" fill="#000" stroke="#000" stroke-width="0.2">E</text>
<text x="473.10" y="242.90" font-size="19" text-anchor="middle" fill="#000" stroke="#000" stroke-width="0.2">F</text>
<text x="7.30" y="472.90" font-size="19" text-anchor="middle" fill="#000" stroke="#000" stroke-width="0.2">G</text>
<text x="241.60" y="472.90" font-size="19" text-anchor="middle" fill="#000" stroke="#000" stroke-width="0.2">H</text>
<text x="473.10" y="472.90" font-size="19" text-anchor="middle" fill="#000" stroke="#000" stroke-width="0.2">I</text>
</svg></body></html>
